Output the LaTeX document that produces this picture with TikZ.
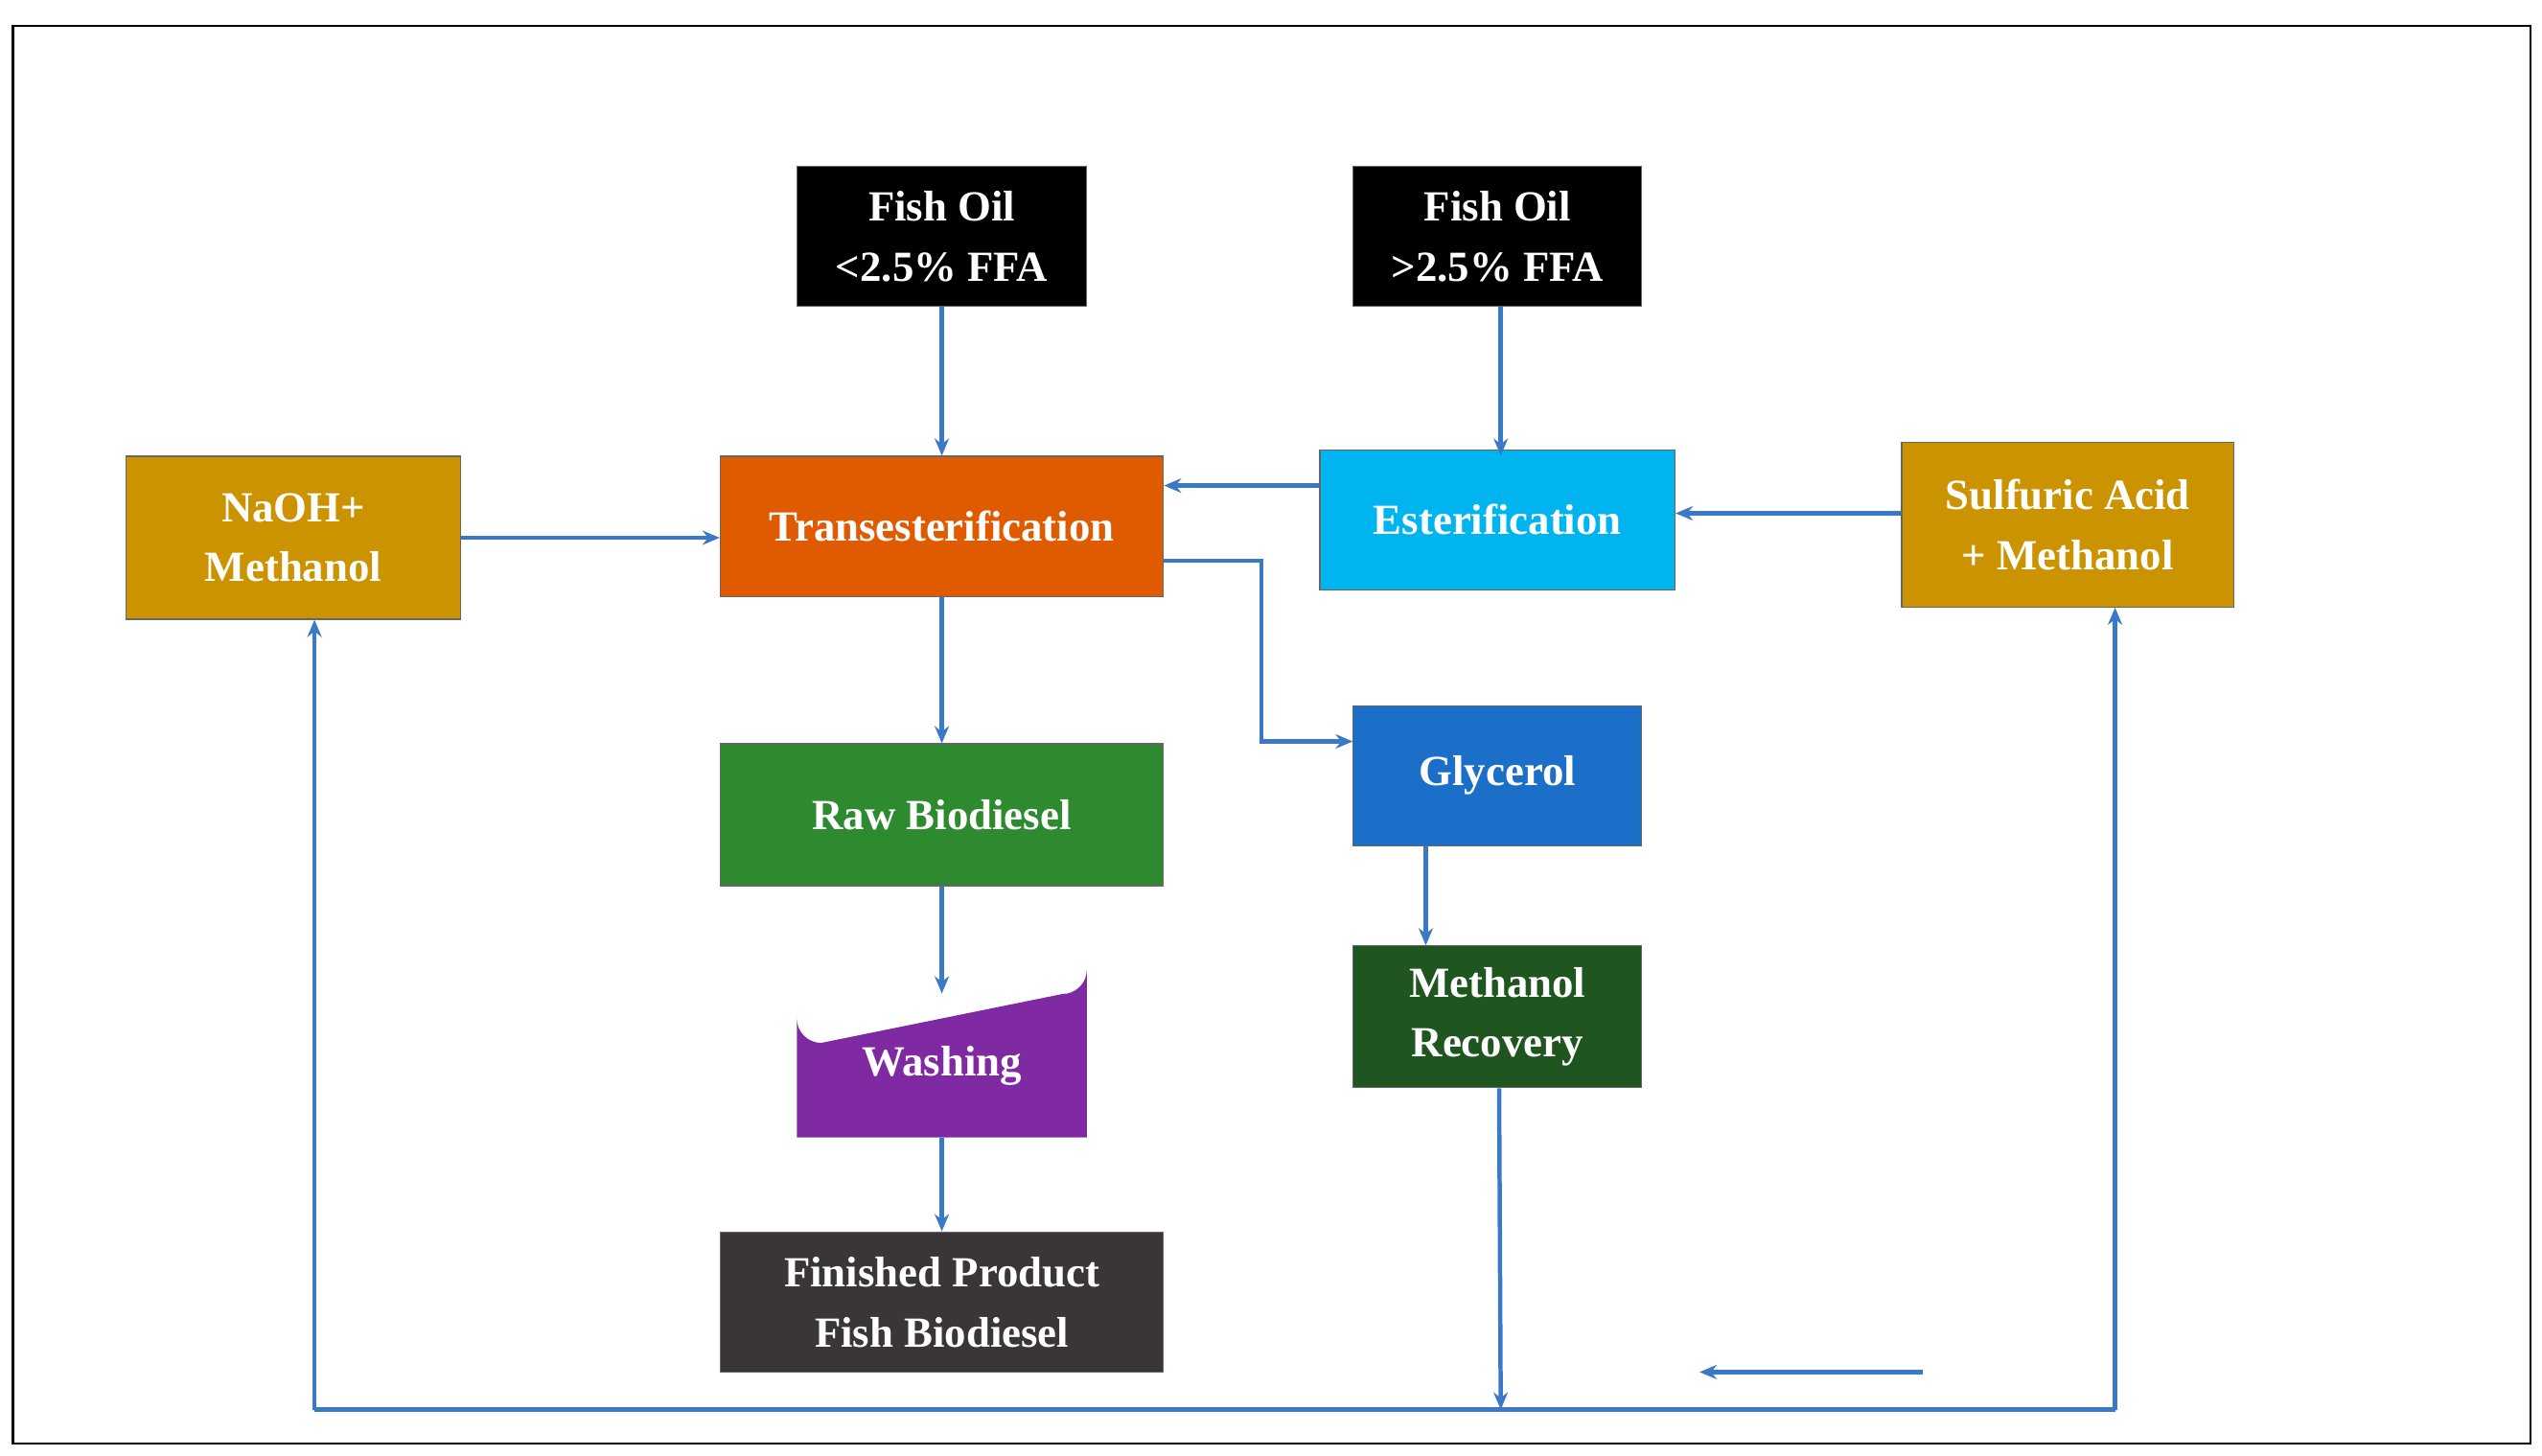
\documentclass[tikz,border=0pt]{standalone}
\usepackage{fontspec}
\setmainfont{Liberation Serif}
\usetikzlibrary{arrows.meta}
\definecolor{gold}{HTML}{CC9300}
\definecolor{orng}{HTML}{E05A00}
\definecolor{cyn}{HTML}{00B4F0}
\definecolor{grn}{HTML}{2E8A2E}
\definecolor{blu}{HTML}{1C6FC8}
\definecolor{purp}{HTML}{7F2AA2}
\definecolor{dgrn}{HTML}{1F561F}
\definecolor{dgray}{HTML}{3A3536}
\definecolor{arr}{HTML}{3A78C8}
\begin{document}
\begin{tikzpicture}[x=0.02cm,y=-0.02cm,
 box/.style={draw=black!60,line width=0.4pt,text=white,align=center,inner sep=0pt,
   font=\fontsize{15}{21}\selectfont\bfseries},
 ar/.style={draw=arr,line width=1.5pt,-{Stealth[length=6pt,width=5pt]}},
 ln/.style={draw=arr,line width=1.5pt}]
\useasboundingbox (0,0) rectangle (1560,893);
\draw[black,line width=0.8pt] (8,16) rectangle (1553,886);
\node[box,fill=black,minimum width=3.56cm,minimum height=1.72cm] (f1) at (578,145) {Fish Oil\\<2.5\% FFA};
\node[box,fill=black,minimum width=3.54cm,minimum height=1.72cm] (f2) at (919,145) {Fish Oil\\>2.5\% FFA};
\node[box,fill=gold,minimum width=4.1cm,minimum height=2cm] (na) at (180,330) {NaOH+\\Methanol};
\node[box,fill=orng,minimum width=5.44cm,minimum height=1.72cm] (tr) at (578,323) {Transesterification};
\node[box,fill=cyn,minimum width=4.36cm,minimum height=1.72cm] (es) at (919,319) {Esterification};
\node[box,fill=gold,minimum width=4.08cm,minimum height=2.02cm] (su) at (1269,322) {Sulfuric Acid\\+ Methanol};
\node[box,fill=grn,minimum width=5.44cm,minimum height=1.74cm] (rb) at (578,500) {Raw Biodiesel};
\node[box,fill=blu,minimum width=3.54cm,minimum height=1.72cm] (gl) at (919,476) {Glycerol};
\fill[purp] (489,698) -- (489,625) arc[start angle=180,end angle=90,radius=15] -- (652,610) arc[start angle=90,end angle=0,radius=15] -- (667,698) -- cycle;
\node[box,draw=none,minimum width=3.56cm,minimum height=1.76cm] (wa) at (578,654) {Washing};
\node[box,fill=dgrn,minimum width=3.54cm,minimum height=1.74cm] (mr) at (919,624) {Methanol\\Recovery};
\node[box,fill=dgray,minimum width=5.44cm,minimum height=1.72cm] (fp) at (578,799) {Finished Product\\Fish Biodiesel};
\coordinate (bl) at (193,865);
\coordinate (br) at (1298,865);
\coordinate (bm) at (921,865);
\coordinate (gk1) at (774,344);
\coordinate (gk2) at (774,455);
\coordinate (ia) at (1180,842);
\coordinate (ib) at (1043,842);
\draw[ar] (f1) -- (tr);
\draw[ar] (f2.south -| 921,0) -- (tr.north -| 921,0) ;
\draw[ar] (na.east |- 0,330) -- (tr.west |- 0,330);
\draw[ar] (es.west |- 0,298) -- (tr.east |- 0,298);
\draw[ar] (su.west |- 0,315) -- (es.east |- 0,315);
\draw[ar] (tr.east |- gk1) -- (gk1) -- (gk2) -- (gl.west |- gk2);
\draw[ar] (tr) -- (rb);
\draw[ar] (rb) -- (wa);
\draw[ar] (wa) -- (fp);
\draw[ar] (gl.south -| 875,0) -- (mr.north -| 875,0);
\draw[ar] (mr.south -| 920,0) -- (bm);
\draw[ln] (bl) -- (br);
\draw[ar] (bl) -- (na.south -| bl);
\draw[ar] (br) -- (su.south -| br);
\draw[ar] (ia) -- (ib);
\end{tikzpicture}
\end{document}
